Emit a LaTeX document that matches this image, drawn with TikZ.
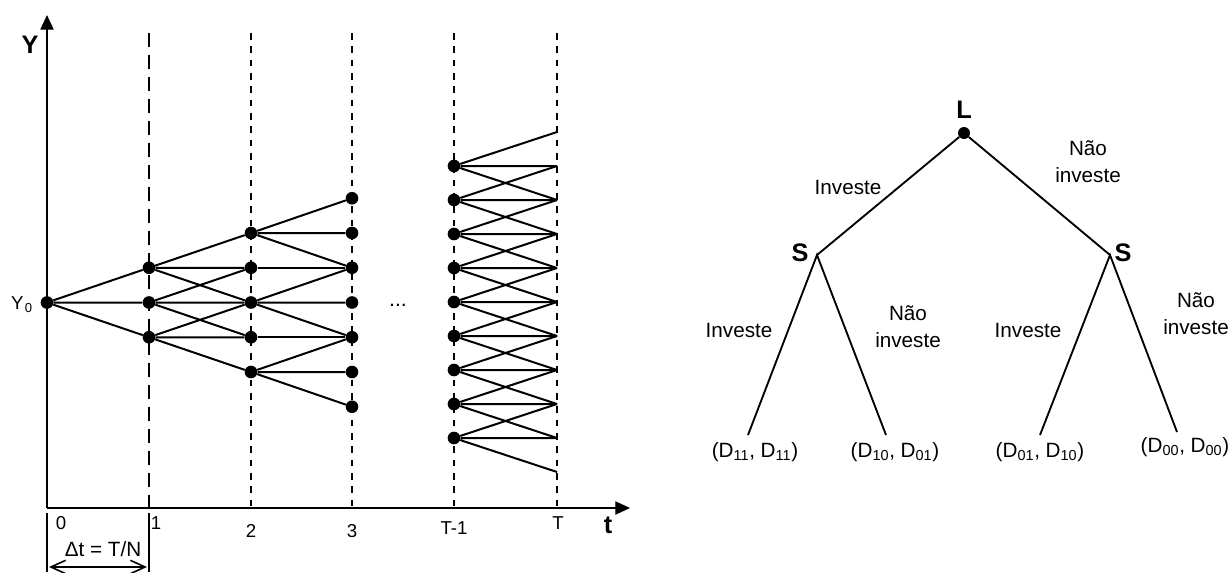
\documentclass[tikz,border=0pt]{standalone}
\usepackage{fontspec}
\setmainfont{Liberation Sans}
\usetikzlibrary{arrows.meta}

\tikzset{
    dot/.style={circle, fill=black, inner sep=0pt, minimum size=9.5pt},
    branch/.style={line width=1.5pt},
    tree/.style={line width=1.4pt},
    axis/.style={line width=0.8pt, -{Triangle[length=11pt, width=10pt]}},
    period/.style={line width=1.4pt, dash pattern=on 5pt off 5pt},
    firstperiod/.style={line width=1.4pt, dash pattern=on 10.5pt off 6pt},
    bracket/.style={line width=1.2pt},
    lbl/.style={font=\fontsize{14pt}{17pt}\selectfont, inner sep=0pt},
    big/.style={font=\fontsize{19pt}{22pt}\selectfont\bfseries, inner sep=0pt},
    choice/.style={font=\fontsize{15.5pt}{20pt}\selectfont, align=center, inner sep=0pt},
}

\begin{document}
\begin{tikzpicture}[x=0.75pt, y=-0.75pt]
    \useasboundingbox (0,0) rectangle (1231,572);

    % axes and time steps
    \coordinate (O) at (47, 508); \coordinate (Ytop) at (47, 15); \coordinate (tend) at (630, 508);
    \draw[axis] (O) -- (Ytop); \draw[axis] (O) -- (tend);
    \draw[firstperiod] (149, 33) -- (149, 508);
    \foreach \x in {251, 352, 454, 557} {
        \draw[period] (\x, 33) -- (\x, 508);
    }

    % lattice up to step 3
    \foreach \c/\x in {0/47, 1/149, 2/251, 3/352} {
        \pgfmathtruncatemacro{\lo}{3-\c} \pgfmathtruncatemacro{\hi}{3+\c}
        \foreach \r in {\lo,...,\hi} { \node[dot] (l\c-\r) at (\x, 198.25+34.75*\r) {}; }
    }
    \foreach \c/\rows in {0/{3}, 1/{2,3,4}, 2/{1,3,5}} {
        \pgfmathtruncatemacro{\n}{\c+1}
        \foreach \r in \rows {
            \pgfmathtruncatemacro{\u}{\r-1} \pgfmathtruncatemacro{\d}{\r+1}
            \draw[branch] (l\n-\u) -- (l\c-\r) -- (l\n-\d) (l\c-\r) -- (l\n-\r);
        }
    }
    \draw[branch] (l2-2) -- (l3-2) (l2-4) -- (l3-4);

    % last step T-1 -> T
    \foreach \k in {0,...,10} { \coordinate (e\k) at (557, 132+34*\k); }
    \foreach \k in {0,...,8} {
        \node[dot] (m\k) at (454, 166+34*\k) {};
        \pgfmathtruncatemacro{\s}{\k+1} \pgfmathtruncatemacro{\d}{\k+2}
        \draw[branch] (e\k) -- (m\k) -- (e\d) (m\k) -- (e\s);
    }

    \node[big] (ylab) at (30, 45) {Y};
    \node[big] (tlab) at (608, 525) {t};
    \node[lbl] (y0) at (22, 305) {Y\kern1pt\textsubscript{0}};
    \node[lbl, font=\fontsize{16pt}{18pt}\selectfont] (dots) at (398, 305) {...};
    \foreach \t/\x/\y in {0/61/523, 1/156/523, 2/251/531, 3/352/531, T-1/454/528, T/558/523} {
        \node[lbl] (tick\x) at (\x, \y) {\t};
    }

    % delta t
    \coordinate (b0) at (47, 513); \coordinate (c0) at (47, 572);
    \coordinate (b1) at (149, 513); \coordinate (c1) at (149, 572);
    \draw[bracket] (b0) -- (c0) (b1) -- (c1);
    \coordinate (a0) at (49, 567); \coordinate (a1) at (147, 567);
    \draw[bracket, {Straight Barb[length=11pt, width=10pt]}-{Straight Barb[length=11pt, width=10pt]}] (a0) -- (a1);
    \node[lbl, font=\fontsize{15.5pt}{18pt}\selectfont] (dt) at (103, 549) {Δt = T/N};

    % game tree
    \node[dot, minimum size=9pt] (L) at (964, 133) {};
    \coordinate (S1) at (817, 255); \coordinate (S2) at (1110, 255);
    \coordinate (D1) at (748, 435); \coordinate (D2) at (886, 435);
    \coordinate (D3) at (1040, 435); \coordinate (D4) at (1177, 432);
    \draw[tree] (S1) -- (L) -- (S2);
    \draw[tree] (D1) -- (S1) -- (D2) (D3) -- (S2) -- (D4);

    \node[big] (Llab) at (964, 110) {L};
    \node[big] (S1lab) at (800, 253) {S};
    \node[big] (S2lab) at (1123, 253) {S};

    \node[choice] (inv0) at (848, 187) {Investe};
    \node[choice] (nao0) at (1088, 162) {Não\\investe};
    \node[choice] (inv1) at (739, 330) {Investe};
    \node[choice] (nao1) at (908, 327) {Não\\investe};
    \node[choice] (inv2) at (1028, 330) {Investe};
    \node[choice] (nao2) at (1196, 314) {Não\\investe};

    \node[choice] (p11) at (755, 452) {(D\textsubscript{11}, D\textsubscript{11})};
    \node[choice] (p10) at (895, 452) {(D\textsubscript{10}, D\textsubscript{01})};
    \node[choice] (p01) at (1040, 452) {(D\textsubscript{01}, D\textsubscript{10})};
    \node[choice] (p00) at (1185, 447) {(D\textsubscript{00}, D\textsubscript{00})};
\end{tikzpicture}
\end{document}
